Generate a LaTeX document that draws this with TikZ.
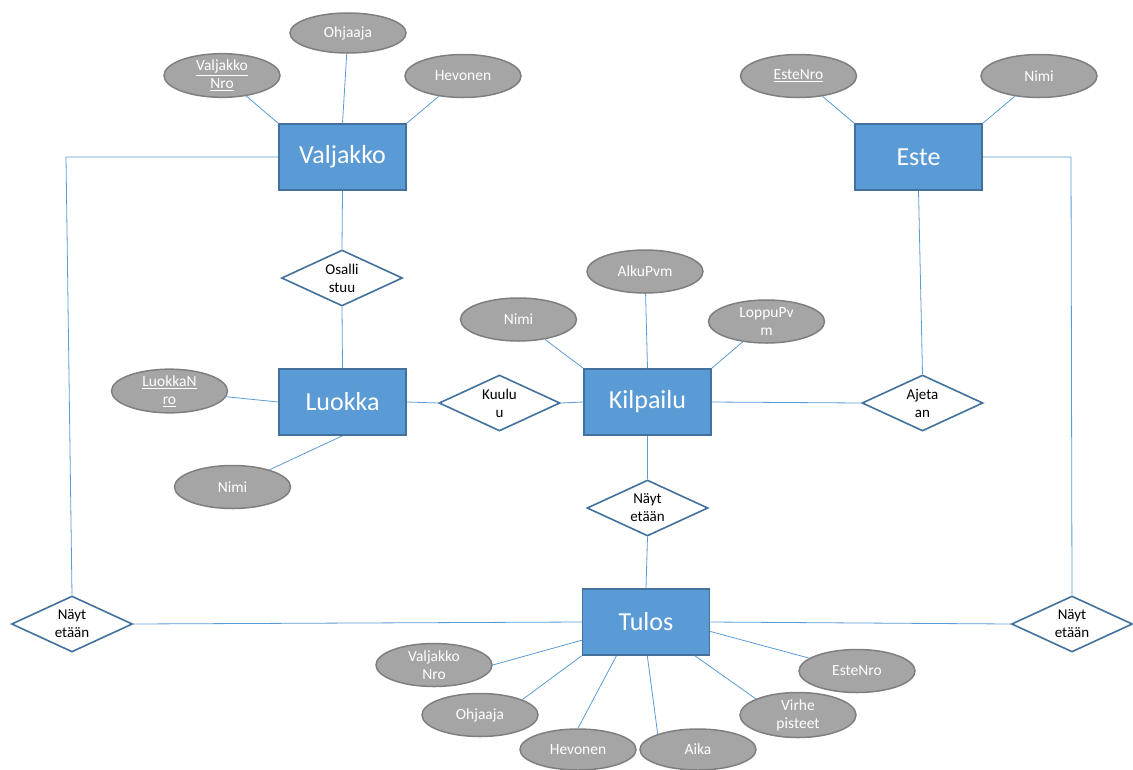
\documentclass[tikz,border=0pt]{standalone}
\usepackage{fontspec}
\setmainfont{Carlito}
\usetikzlibrary{shapes.geometric,calc}
\definecolor{entfill}{HTML}{5B9BD5}
\definecolor{entdraw}{HTML}{41719C}
\definecolor{attfill}{HTML}{A5A5A5}
\definecolor{attdraw}{HTML}{7F7F7F}
\definecolor{linec}{HTML}{5B9BD5}
\tikzset{
  entity/.style={rectangle, fill=entfill, draw=entdraw, line width=1.5pt, minimum width=127pt, minimum height=66pt, inner sep=0pt, text=white, font=\fontsize{26}{30}\selectfont},
  attr/.style={ellipse, fill=attfill, draw=attdraw, line width=1.5pt, minimum width=116pt, minimum height=43pt, inner sep=0pt, text=white, align=center, font=\fontsize{15.5}{18}\selectfont},
  rel/.style={diamond, fill=white, draw=entdraw, line width=1.6pt, aspect=2.16, minimum width=121pt, minimum height=56pt, inner sep=0pt, text=black, align=center, font=\fontsize{15}{18}\selectfont},
  conn/.style={draw=linec, line width=0.8pt}
}
\begin{document}
\begin{tikzpicture}[x=1pt,y=-1pt]
\useasboundingbox (0,0) rectangle (1133,769);
% entities
\node[entity] (valjakko) at (342.5,157) {Valjakko};
\node[entity] (luokka) at (342.5,402) {Luokka};
\node[entity] (kilpailu) at (647.5,402) {Kilpailu};
\node[entity] (este) at (918.5,157) {Este};
\node[entity] (tulos) at (646,622) {Tulos};
% relationships
\node[rel] (osal) at (342,278) {Osalli\\stuu};
\node[rel] (kuuluu) at (499.5,403) {Kuulu\\u};
\node[rel] (ajetaan) at (922.5,403) {Ajeta\\an};
\node[rel] (nm) at (647.5,508) {Näyt\\etään};
\node[rel] (nl) at (72,624) {Näyt\\etään};
\node[rel] (nr) at (1072,624) {Näyt\\etään};
% attributes
\node[attr, minimum height=40pt] (vohj) at (348,33) {Ohjaaja};
\node[attr] (vnro) at (222,75.5) {\underline{Valjakko}\\\underline{Nro}};
\node[attr] (vhev) at (463,76) {Hevonen};
\node[attr] (lnro) at (169.5,391) {\underline{LuokkaN}\\\underline{ro}};
\node[attr] (lnimi) at (232.5,487) {Nimi};
\node[attr] (knimi) at (518.5,319.5) {Nimi};
\node[attr] (kalku) at (645,271.5) {AlkuPvm};
\node[attr] (kloppu) at (766.5,321.5) {LoppuPv\\m};
\node[attr] (enro) at (798.5,76) {\underline{EsteNro}};
\node[attr] (enimi) at (1039,76) {Nimi};
\node[attr] (tvnro) at (434,665) {Valjakko\\Nro};
\node[attr] (tohj) at (480,715) {Ohjaaja};
\node[attr, minimum height=41pt] (thev) at (578,749.5) {Hevonen};
\node[attr, minimum height=41pt] (taika) at (698,749.5) {Aika};
\node[attr, minimum height=45pt] (tvirhe) at (798,715) {Virhe\\pisteet};
\node[attr] (teste) at (857,671) {EsteNro};
% corner points
\coordinate (lc) at (66,157);
\coordinate (rc) at (1071,157);
% connectors: Valjakko
\draw[conn] (vnro) -- (valjakko.north west);
\draw[conn] (vohj) -- (valjakko.north);
\draw[conn] (vhev) -- (valjakko.north east);
\draw[conn] (valjakko.south) -- (osal.north);
\draw[conn] (osal.south) -- (luokka.north);
\draw[conn] (valjakko.west) -- (lc) -- (nl.north);
% Luokka
\draw[conn] (lnro) -- (luokka.west);
\draw[conn] (lnimi) -- (luokka.south);
\draw[conn] (luokka.east) -- (kuuluu.west);
\draw[conn] (kuuluu.east) -- (kilpailu.west);
% Kilpailu
\draw[conn] (knimi) -- (kilpailu.north west);
\draw[conn] (kalku) -- (kilpailu.north);
\draw[conn] (kloppu) -- (kilpailu.north east);
\draw[conn] (kilpailu.east) -- (ajetaan.west);
\draw[conn] (kilpailu.south) -- (nm.north);
\draw[conn] (nm.south) -- (tulos.north);
% Este
\draw[conn] (enro) -- (este.north west);
\draw[conn] (enimi) -- (este.north east);
\draw[conn] (este.south) -- (ajetaan.north);
\draw[conn] (este.east) -- (rc) -- (nr.north);
% Tulos
\draw[conn] (nl.east) -- (tulos.west);
\draw[conn] (tulos.east) -- (nr.west);
\draw[conn] (tvnro.east) -- ($(tulos.south west)!0.23!(tulos.north west)$);
\draw[conn] (tohj.20) -- (tulos.south west);
\draw[conn] (thev.north) -- ($(tulos.south west)!0.27!(tulos.south east)$);
\draw[conn] (taika.159) -- ($(tulos.south west)!0.51!(tulos.south east)$);
\draw[conn] (tvirhe.159) -- ($(tulos.south west)!0.88!(tulos.south east)$);
\draw[conn] (teste) -- ($(tulos.south east)!0.36!(tulos.north east)$);
\end{tikzpicture}
\end{document}
